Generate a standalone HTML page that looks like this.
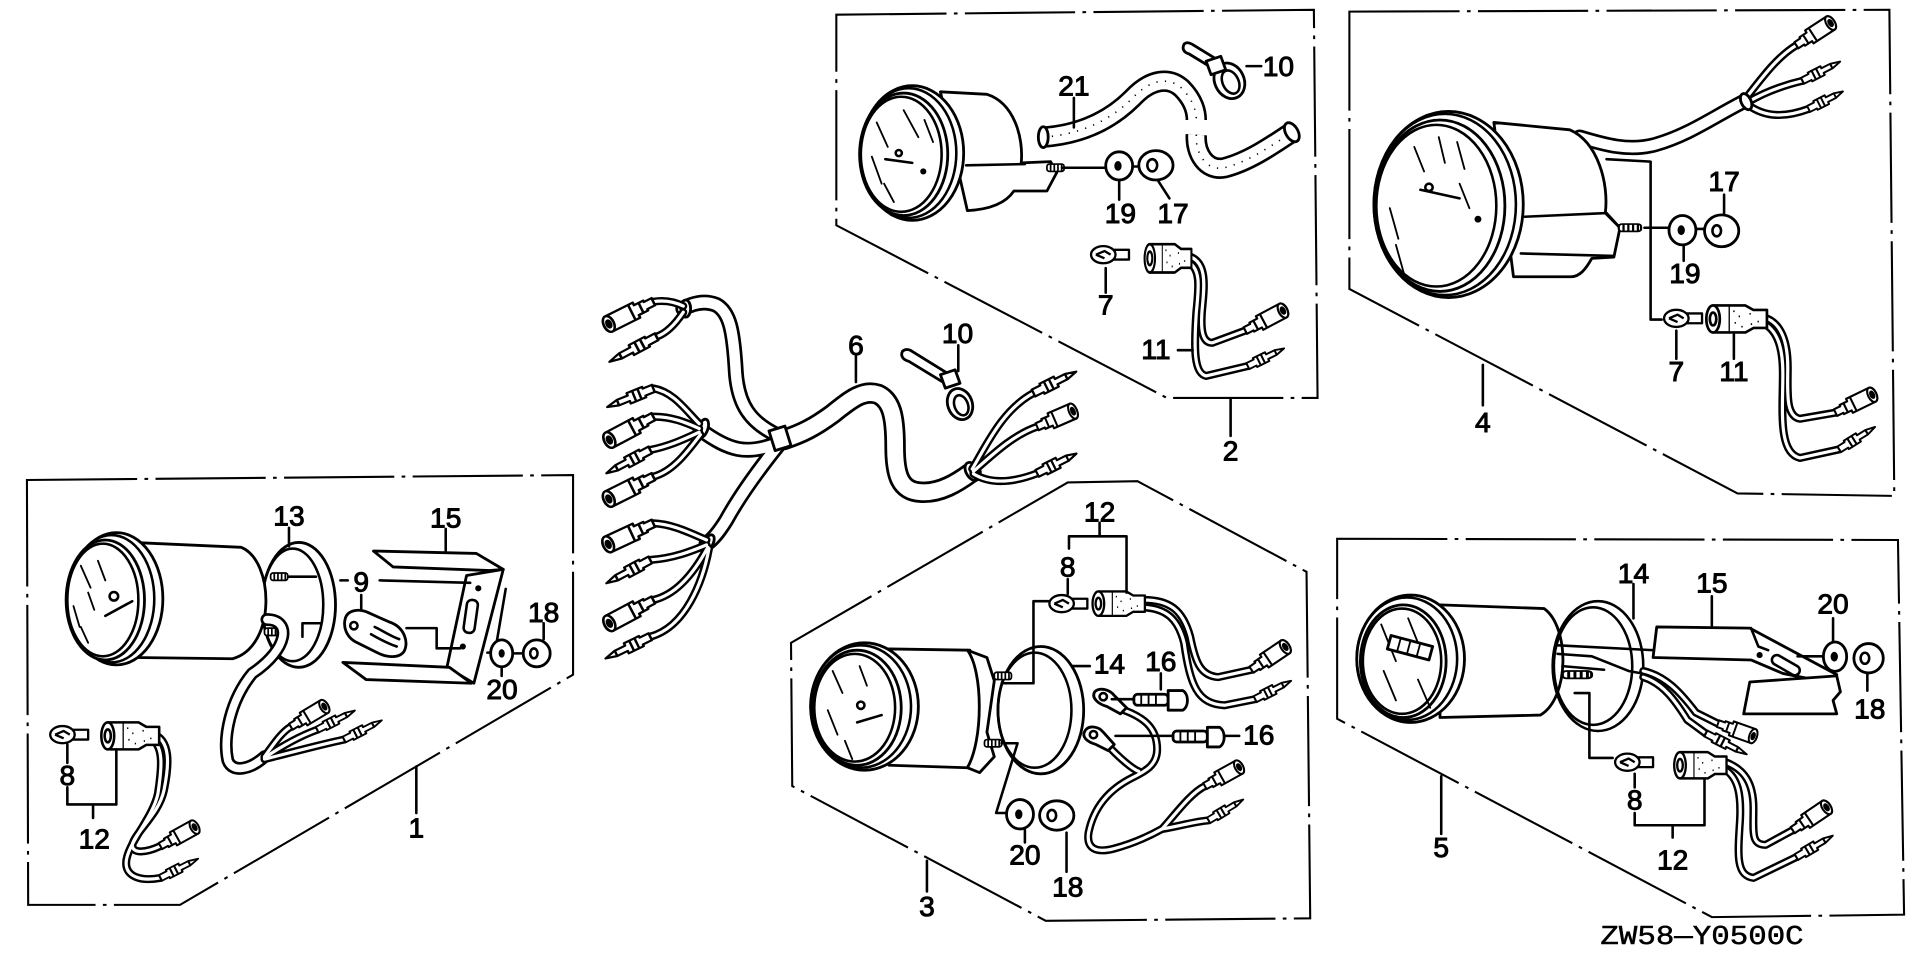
<!DOCTYPE html>
<html><head><meta charset="utf-8">
<style>
html,body{margin:0;padding:0;background:#fff;}
svg{display:block;}
path[id]{fill:none}
.s{fill:none;stroke:#000;stroke-width:2.1;stroke-linejoin:round;stroke-linecap:round}
.t{fill:none;stroke:#000;stroke-width:1.5;stroke-linecap:round}
.f{fill:#fff;stroke:#000;stroke-width:2.3;stroke-linejoin:round}
.box{fill:none;stroke:#000;stroke-width:1.7;stroke-dasharray:90 6 3 6;stroke-linejoin:miter}
.wb{fill:none;stroke:#000;stroke-width:6.6;stroke-linecap:round;stroke-linejoin:round}
.ww{fill:none;stroke:#fff;stroke-width:2.6;stroke-linecap:round;stroke-linejoin:round}
.bb{fill:none;stroke:#000;stroke-width:13;stroke-linecap:round;stroke-linejoin:round}
.bw{fill:none;stroke:#fff;stroke-width:8.6;stroke-linecap:round;stroke-linejoin:round}
.cb{fill:none;stroke:#000;stroke-width:10.5;stroke-linecap:round;stroke-linejoin:round}
.cw{fill:none;stroke:#fff;stroke-width:6.2;stroke-linecap:round;stroke-linejoin:round}
.hb{fill:none;stroke:#000;stroke-width:17.5;stroke-linecap:round}
.hw{fill:none;stroke:#fff;stroke-width:13.2;stroke-linecap:round}
.hd{fill:none;stroke:#000;stroke-width:1.3;stroke-dasharray:1 6}
text{font-family:"Liberation Sans",Arial,sans-serif;font-size:23px;text-anchor:middle;fill:#000;stroke:#000;stroke-width:0.8}
text.code{font-family:"Liberation Mono","Liberation Serif",monospace;font-size:22px;stroke-width:0.4;text-anchor:start}
</style></head>
<body>
<svg width="1920" height="958" viewBox="0 0 1568 782.4" preserveAspectRatio="none" xmlns="http://www.w3.org/2000/svg" xmlns:xlink="http://www.w3.org/1999/xlink">
<defs>
 <g id="sk" fill="#fff" stroke="#000" stroke-width="1.5" stroke-linejoin="round">
  <path d="M0,-2.6 H5 V-3.6 H11 V-5.5 H29 A3,5.5 0 0 1 29,5.5 H11 V3.6 H5 V2.6 H0 Z"/>
  <ellipse cx="29" cy="0" rx="3" ry="5.5"/>
  <ellipse cx="29" cy="0" rx="1.2" ry="2.4" fill="#000"/>
  <path d="M8,-3.6 V3.6 M14,-5.5 V5.5" fill="none"/>
 </g>
 <g id="pn" fill="#fff" stroke="#000" stroke-width="1.5" stroke-linejoin="round">
  <path d="M0,-2.6 H6 V-3.8 H16 V-2 H23 L30,0 L23,2 H16 V3.8 H6 V2.6 H0 Z"/>
  <path d="M9,-3.8 V3.8 M12.5,-3.8 V3.8 M23,-2 V2" fill="none"/>
 </g>
 <g id="bulb" fill="#fff" stroke="#000" stroke-width="1.9" stroke-linejoin="round">
  <path d="M18,-4 H31 V4 H18 Z"/>
  <ellipse cx="10" cy="0" rx="10" ry="7"/>
  <path d="M4,0 L11,-3 L16,0 M4,0 L11,3" fill="none"/>
 </g>
 <g id="ls" fill="#fff" stroke="#000" stroke-width="2" stroke-linejoin="round">
  <path d="M0,-10.5 H24 L30,-7 H40 V7 H30 L24,10.5 H0 Z"/>
  <ellipse cx="0" cy="0" rx="5" ry="10.5"/>
  <ellipse cx="0" cy="0" rx="2.4" ry="5"/>
  <path d="M12,-10.5 V10.5" fill="none" stroke-width="1"/>
  <path d="M15,-6 h1 M19,-2 h1 M16,3 h1 M21,6 h1 M27,-4 h1 M33,2 h1 M28,4 h1" fill="none" stroke-width="1.3"/>
 </g>
 <g id="thr" fill="#fff" stroke="#000" stroke-width="1.4">
  <rect x="0" y="-3" width="14" height="6" rx="2"/>
  <path d="M3,-3 V3 M6,-3 V3 M9,-3 V3 M12,-3 V3" fill="none"/>
 </g>
 <path id="c1" d="M218,506 C238,506 236,530 206,550 C188,572 182,602 186,621 C190,632 205,628 216,618"/>
 <path id="c1a" d="M216,618 C224,607 230,598 237.5,593.5"/>
 <path id="c1b" d="M216,619 C235,606 248,600 259,596"/>
 <path id="c1c" d="M216,620 C240,614 262,608 281,604"/>
 <path id="w1a" d="M124,599 C140,604 138,625 134,645 C130,665 110,680 108,690 C108,697 118,697 131,691"/>
 <path id="w1b" d="M124,604 C134,610 132,628 129,648 C125,668 103,690 103,705 C103,716 115,720 131,717"/>
 <path id="tr" d="M640,359 C655,354 665,349 680,338 C695,326 705,318 717,322 C728,327 731,340 731,365 C731,388 735,401 752,402 C768,403 782,394 793,386"/>
 <path id="tra" d="M636,356 C612,345 603,330 601,305 C599,270 596,255 585,249 C575,245 565,248 558,252"/>
 <path id="trb" d="M635,362 C610,372 595,368 572,351"/>
 <path id="trc" d="M636,363 C620,383 604,405 593,425 C588,433 583,440 577,444"/>
 <path id="h1" d="M558,250 C550,246 542,245 533.5,246.4"/>
 <path id="h2" d="M558,255 C552,264 545,272 536,275"/>
 <path id="h3" d="M571,346 C560,335 550,320 533.5,317.2"/>
 <path id="h4" d="M571,350 C560,345 548,340 533.5,340.3"/>
 <path id="h5" d="M571,353 C560,358 548,364 531,367.5"/>
 <path id="h6" d="M572,355 C562,368 550,385 533.5,389.3"/>
 <path id="h7" d="M577,441 C565,436 550,428 533.5,427.4"/>
 <path id="h8" d="M577,445 C565,450 550,456 531,457.3"/>
 <path id="h9" d="M578,447 C570,462 555,485 533.5,490"/>
 <path id="h10" d="M579,448 C574,475 560,512 531,520"/>
 <path id="h11" d="M794,383 C805,365 818,335 844,321"/>
 <path id="h12" d="M795,385 C812,370 828,355 847,348.5"/>
 <path id="h13" d="M795,387 C808,395 825,395 847,386.6"/>
 <path id="hs1" d="M852,112 C880,110 905,100 925,80 C940,64 955,63 965,72 C975,82 977,92 977,98"/>
 <path id="hs2" d="M977,110 C976,125 985,140 1000,137 C1020,132 1040,118 1055,108"/>
 <path id="w2a" d="M970,209 C985,213 984,230 982,250 C980,270 982,280 990,280 L1017,270"/>
 <path id="w2b" d="M970,214 C981,219 979,235 977,255 C975,285 975,305 985,307 L1019,299"/>
 <path id="c4" d="M1290,112 C1310,118 1330,124 1352,118 C1380,110 1400,95 1426,82"/>
 <path id="h4a" d="M1426,80 C1440,62 1452,46 1467,37"/>
 <path id="h4b" d="M1428,83 C1440,76 1455,70 1472,66"/>
 <path id="h4c" d="M1428,86 C1442,96 1458,96 1477,89"/>
 <path id="w4a" d="M1440,259 C1455,263 1460,280 1460,300 C1460,320 1458,340 1470,342 L1499,337"/>
 <path id="w4b" d="M1440,264 C1452,270 1456,285 1456,305 C1456,335 1452,370 1470,374 L1502,367"/>
 <path id="w3c" d="M912,578 C935,585 945,595 945,612 C945,625 935,630 925,635 C905,645 893,660 889,680 C887,693 895,697 910,693 C925,689 940,682 949,677"/>
 <path id="w3d" d="M903,607 C915,620 925,628 930,630"/>
 <path id="w3e" d="M949,677 C960,665 972,648 984,642"/>
 <path id="w3f" d="M949,677 C962,675 975,671 987,670"/>
 <path id="w3a" d="M934,490 C955,490 966,498 972,520 C976,540 980,552 995,553 L1022,547"/>
 <path id="w3b" d="M934,496 C952,497 962,505 967,525 C972,560 978,575 1000,576 L1025,571"/>
 <path id="w5c" d="M1342,548 C1360,552 1372,565 1385,582 L1403,591"/>
 <path id="w5d" d="M1342,553 C1358,558 1368,572 1378,588 L1393,599"/>
 <path id="w5a" d="M1408,622 C1425,628 1432,640 1432,660 C1432,680 1430,690 1442,690 L1464,678"/>
 <path id="w5b" d="M1408,628 C1420,635 1422,650 1421,670 C1419,700 1418,715 1432,717 L1467,700"/>
</defs>

<!-- ================= BOXES ================= -->
<path class="box" d="M22,392 L468,388 L468,551 L147,739 L23,739 Z"/>
<path class="box" d="M683,12 L1073,8 L1076,325 L953,325 L683,184 Z"/>
<path class="box" d="M1102,9.5 L1543,8 L1547,405 L1419,403 L1102,236 Z"/>
<path class="box" d="M872,394 L929,393 L1067,467 L1070,750 L854,752 L647,642 L646,525 Z"/>
<path class="box" d="M1092,440 L1550,441 L1555,747 L1398,749 L1092,587 Z"/>

<!-- ================= BOX 1 ================= -->
<ellipse class="f" cx="244" cy="494" rx="30" ry="51"/>
<ellipse class="s" cx="239" cy="494" rx="25" ry="46"/>
<path class="f" d="M108,443 L197,447 C224,458 226,528 190,538 L110,537 Z"/>
<ellipse class="f" cx="95" cy="489" rx="38" ry="54"/>
<ellipse class="s" cx="91" cy="489" rx="35" ry="52"/>
<ellipse class="f" cx="86" cy="490" rx="32" ry="49"/>
<ellipse class="s" cx="84" cy="490" rx="29" ry="46"/>
<path class="t" d="M66,462 L74,480 M80,458 L86,474 M72,484 L77,498 M60,495 L65,512 M66,512 L72,525"/>
<circle class="s" cx="93" cy="487" r="3.5"/>
<path class="s" d="M86,503 L108,491" stroke-width="3.2"/>
<use href="#thr" transform="translate(221,471)"/>
<use href="#thr" transform="translate(216,516)"/>
<path class="f" d="M305,450 L389,452 L411,465 L400,466 L321,463 Z"/>
<path class="f" d="M381,470 L411,465 L387,558 L365,545 Z"/>
<path class="s" d="M413,481 L404,534"/>
<path class="f" d="M280,541 L367,545 L385,558 L299,555 Z"/>
<rect class="s" x="380" y="490" width="9" height="27" rx="4" transform="rotate(8 385 503)"/>
<circle cx="390.6" cy="480.5" r="2.5"/>
<circle cx="378" cy="528" r="2.5"/>
<path class="f" d="M282,505 C284,498 293,497 300,500 L318,508 C330,512 334,524 330,532 C326,538 316,537 308,533 L290,524 C283,520 280,512 282,505 Z"/>
<circle class="s" cx="289" cy="511" r="3"/>
<path class="s" d="M303,518 C310,522 318,526 324,528 M306,512 C314,516 320,520 326,522"/>
<ellipse class="f" cx="409.7" cy="533.6" rx="9" ry="11"/>
<ellipse cx="409.7" cy="533.6" rx="2.5" ry="3.5"/>
<ellipse class="f" cx="438.3" cy="533.6" rx="11" ry="11"/>
<ellipse class="s" cx="436" cy="533.6" rx="3" ry="4"/>
<path class="s" d="M236,431 V446 M236,471 H258 M278,474 H284 M310,474 L384,476 M247,509 H262 M247,509 V520 M295,486 V498 M332,513 H356.6 V529.5 H375.7 M364,432 V450 M444,509 V522 M409.7,546 V552 M420,533.6 H427 M398,533 H400"/>
<use href="#c1" class="cb"/><use href="#c1" class="cw"/>
<use href="#c1a" class="wb"/><use href="#c1b" class="wb"/><use href="#c1c" class="wb"/>
<use href="#c1a" class="ww"/><use href="#c1b" class="ww"/><use href="#c1c" class="ww"/>
<use href="#sk" transform="translate(237.5,593.5) rotate(-31) scale(1.1,1.1)"/>
<use href="#pn" transform="translate(259,596) rotate(-27) scale(1.15,1)"/>
<use href="#pn" transform="translate(281,604) rotate(-27) scale(1.15,1)"/>
<use href="#bulb" transform="translate(41,600)"/>
<use href="#w1a" class="wb"/><use href="#w1b" class="wb"/><use href="#w1a" class="ww"/><use href="#w1b" class="ww"/>
<use href="#ls" transform="translate(88,601) scale(1.05,1.05)"/>
<use href="#sk" transform="translate(131,691) rotate(-29) scale(1.1,1.1)"/>
<use href="#pn" transform="translate(131,717) rotate(-27) scale(1.15,1)"/>
<path class="s" d="M55,608 V623 M55,643 V657 H95 V612 M76,657 V668 M340,626 V664"/>
<text x="236" y="429">13</text>
<text x="295" y="483">9</text>
<text x="364" y="431">15</text>
<text x="444" y="508">18</text>
<text x="410" y="571">20</text>
<text x="55" y="641">8</text>
<text x="77" y="693">12</text>
<text x="340" y="684">1</text>

<!-- ================= HARNESS 6 ================= -->
<use href="#tr" class="bb" style="stroke-width:17.5"/>
<use href="#tra" class="bb"/><use href="#trb" class="bb"/><use href="#trc" class="bb"/>
<use href="#tr" class="bw" style="stroke-width:13"/>
<use href="#tra" class="bw"/><use href="#trb" class="bw"/><use href="#trc" class="bw"/>
<path class="f" d="M628,352 L641,348 L646,364 L633,368 Z"/>
<ellipse class="f" cx="794" cy="385" rx="5" ry="8" transform="rotate(-30 794 385)"/>
<ellipse class="f" cx="560" cy="252" rx="4" ry="7"/>
<ellipse class="f" cx="574" cy="350" rx="4" ry="8" transform="rotate(20 574 350)"/>
<ellipse class="f" cx="578" cy="444" rx="4" ry="8" transform="rotate(30 578 444)"/>
<use href="#h1" class="wb"/><use href="#h2" class="wb"/><use href="#h3" class="wb"/><use href="#h4" class="wb"/><use href="#h5" class="wb"/><use href="#h6" class="wb"/><use href="#h7" class="wb"/><use href="#h8" class="wb"/><use href="#h9" class="wb"/><use href="#h10" class="wb"/><use href="#h11" class="wb"/><use href="#h12" class="wb"/><use href="#h13" class="wb"/>
<use href="#h1" class="ww"/><use href="#h2" class="ww"/><use href="#h3" class="ww"/><use href="#h4" class="ww"/><use href="#h5" class="ww"/><use href="#h6" class="ww"/><use href="#h7" class="ww"/><use href="#h8" class="ww"/><use href="#h9" class="ww"/><use href="#h10" class="ww"/><use href="#h11" class="ww"/><use href="#h12" class="ww"/><use href="#h13" class="ww"/>
<use href="#sk" transform="translate(533.5,246.4) rotate(153.4) scale(1.4,1.25)"/>
<use href="#pn" transform="translate(536.2,275) rotate(152) scale(1.45,1.2)"/>
<use href="#pn" transform="translate(533.5,317.2) rotate(158) scale(1.35,1.2)"/>
<use href="#sk" transform="translate(533.5,340.3) rotate(152) scale(1.4,1.25)"/>
<use href="#pn" transform="translate(531,367.5) rotate(152) scale(1.35,1.2)"/>
<use href="#sk" transform="translate(533.5,389.3) rotate(153.4) scale(1.4,1.25)"/>
<use href="#sk" transform="translate(533.5,427.4) rotate(155) scale(1.4,1.25)"/>
<use href="#pn" transform="translate(531,457.3) rotate(152) scale(1.35,1.2)"/>
<use href="#sk" transform="translate(533.5,490) rotate(152) scale(1.4,1.25)"/>
<use href="#pn" transform="translate(531,520) rotate(154) scale(1.35,1.2)"/>
<use href="#pn" transform="translate(844,321) rotate(-26.6) scale(1.3,1.2)"/>
<use href="#sk" transform="translate(847,348.5) rotate(-23.5) scale(1.1,1.2)"/>
<use href="#pn" transform="translate(847,386.6) rotate(-26.7) scale(1.2,1.2)"/>
<path class="f" d="M737,287 C735,291 738,294 742,295 L770,312 L774,305 L745,287 C742,285 739,285 737,287 Z"/>
<ellipse class="f" cx="784" cy="330" rx="10" ry="13" transform="rotate(-20 784 330)"/>
<ellipse class="s" cx="785" cy="331" rx="5.5" ry="8.5" transform="rotate(-20 785 331)"/>
<path class="f" d="M768,306 L780,302 L784,313 L772,317 Z"/>
<path class="s" d="M699,291 V312 M782.6,282 V303"/>
<text x="699" y="290">6</text>
<text x="782" y="280">10</text>

<!-- ================= BOX 2 ================= -->
<path class="f" d="M768,75 L806,77 C828,84 836,112 834,133 L858,132 L863,141 L855,156 L828,156 C822,165 810,171 790,172 Z"/>
<path class="s" d="M789,135 L837,134"/>
<use href="#thr" transform="translate(855,137)"/>
<ellipse class="f" cx="745" cy="125" rx="42" ry="55"/>
<ellipse class="s" cx="742" cy="125" rx="39" ry="53"/>
<ellipse class="f" cx="738" cy="126" rx="36" ry="50"/>
<ellipse class="s" cx="736" cy="126" rx="33" ry="47"/>
<path class="t" d="M738,90 L750,112 M755,98 L762,116 M716,100 L725,120 M712,128 L720,150 M722,150 L730,165"/>
<path class="s" d="M723,130 L745,133" stroke-width="3.2"/>
<circle class="s" cx="734" cy="125" r="2.5"/>
<circle cx="754" cy="140" r="2.5"/>
<use href="#hs1" class="hb" style="stroke-linecap:butt"/><use href="#hs2" class="hb" style="stroke-linecap:butt"/>
<use href="#hs1" class="hw" style="stroke-linecap:butt"/><use href="#hs2" class="hw" style="stroke-linecap:butt"/>
<use href="#hs1" class="hd"/><use href="#hs2" class="hd"/>
<ellipse class="f" cx="852" cy="112" rx="4" ry="8.5"/>
<ellipse class="f" cx="1055" cy="108" rx="5" ry="8.5" transform="rotate(-30 1055 108)"/>
<path class="f" d="M967,36 C965,40 967,43 971,44 L989,55 L993,48 L975,37 C972,35 969,34 967,36 Z"/>
<ellipse class="f" cx="1004" cy="66" rx="12" ry="15" transform="rotate(-25 1004 66)"/>
<ellipse class="s" cx="1005" cy="67" rx="6.5" ry="10" transform="rotate(-25 1005 67)"/>
<path class="f" d="M985,50 L997,46 L1001,57 L989,61 Z"/>
<ellipse class="f" cx="914" cy="135.5" rx="11" ry="11.5"/>
<ellipse cx="913" cy="135.5" rx="3" ry="4"/>
<ellipse class="f" cx="944" cy="135" rx="14" ry="12"/>
<ellipse class="s" cx="941" cy="135" rx="4" ry="5"/>
<use href="#bulb" transform="translate(891,208)"/>
<use href="#w2a" class="wb"/><use href="#w2b" class="wb"/><use href="#w2a" class="ww"/><use href="#w2b" class="ww"/>
<use href="#ls" transform="translate(939,211) scale(0.85,1.1)"/>
<use href="#sk" transform="translate(1017,270) rotate(-28) scale(1.2,1.15)"/>
<use href="#pn" transform="translate(1019,299) rotate(-26) scale(1.1,1.05)"/>
<path class="s" d="M877,80 V104 M1018,54 H1030 M914,148 V163 M946,148 L955,162 M868,137 H903 M925,136 H930 M903,219 V239 M962,286 H974 M1005,326 V356"/>
<text x="877" y="78">21</text>
<text x="1044" y="62">10</text>
<text x="915" y="182">19</text>
<text x="958" y="182">17</text>
<text x="903" y="257">7</text>
<text x="944" y="293">11</text>
<text x="1005" y="376">2</text>

<!-- ================= BOX 4 ================= -->
<use href="#c4" class="cb" style="stroke-width:12.5"/><use href="#c4" class="cw" style="stroke-width:8.2"/>
<path class="f" d="M1220,100 L1282,106 C1305,116 1314,150 1311,174 L1323,186 L1318,210 L1300,211 C1295,220 1290,226 1283,226 L1236,226 Z"/>
<path class="s" d="M1245,177 L1312,174 L1323,186 M1242,207 L1318,209"/>
<use href="#thr" transform="translate(1322,186) scale(1.3,1)"/>
<ellipse class="f" cx="1183" cy="167" rx="61" ry="76"/>
<ellipse class="s" cx="1180" cy="167" rx="58" ry="74"/>
<ellipse class="f" cx="1176" cy="168" rx="53" ry="70"/>
<ellipse class="s" cx="1173" cy="168" rx="49" ry="66"/>
<path class="t" d="M1155,120 L1163,140 M1175,112 L1180,133 M1190,116 L1196,138 M1135,170 L1142,195 M1140,200 L1147,225 M1192,150 L1200,170"/>
<path class="s" d="M1160,155 L1192,162" stroke-width="3.6"/>
<circle class="s" cx="1167" cy="153" r="3"/>
<circle cx="1207" cy="179" r="2.8"/>
<use href="#h4a" class="wb"/><use href="#h4b" class="wb"/><use href="#h4c" class="wb"/>
<use href="#h4a" class="ww"/><use href="#h4b" class="ww"/><use href="#h4c" class="ww"/>
<ellipse class="f" cx="1426" cy="83" rx="4" ry="7" transform="rotate(-25 1426 83)"/>
<use href="#sk" transform="translate(1467,37) rotate(-33) scale(1.15,1.15)"/>
<use href="#pn" transform="translate(1472,66) rotate(-27) scale(1.15,1.05)"/>
<use href="#pn" transform="translate(1477,89) rotate(-27) scale(1.05,1.05)"/>
<ellipse class="f" cx="1374" cy="188" rx="11" ry="12"/>
<ellipse cx="1373" cy="188" rx="3" ry="4"/>
<ellipse class="f" cx="1406" cy="188.5" rx="14" ry="13"/>
<ellipse class="s" cx="1402" cy="188.5" rx="3.5" ry="4.5"/>
<use href="#bulb" transform="translate(1359,260)"/>
<use href="#w4a" class="wb"/><use href="#w4b" class="wb"/><use href="#w4a" class="ww"/><use href="#w4b" class="ww"/>
<use href="#ls" transform="translate(1399,260.5) scale(1.1,1.05)"/>
<use href="#sk" transform="translate(1499,337) rotate(-26) scale(1.15,1.15)"/>
<use href="#pn" transform="translate(1502,367) rotate(-32) scale(1.15,1.05)"/>
<path class="s" d="M1312,130 L1348,132 V261 H1357 M1343,186 H1362 M1386,187 H1392 M1408,159 V175 M1375,200 V213 M1369,270 V293 M1416,273 V293 M1211,298 V331"/>
<text x="1408" y="156">17</text>
<text x="1376" y="231">19</text>
<text x="1369" y="311">7</text>
<text x="1416" y="311">11</text>
<text x="1211" y="353">4</text>

<!-- ================= BOX 3 ================= -->
<ellipse class="f" cx="850" cy="580" rx="35" ry="52"/>
<ellipse class="s" cx="845" cy="580" rx="30" ry="47"/>
<path class="f" d="M726,530 L792,531 C803,548 805,605 790,627 L726,625 Z"/>
<path class="f" d="M790,531 L806,537 L812,556 L806,598 L812,618 L800,631 L790,627 C803,605 803,548 790,531 Z"/>
<use href="#thr" transform="translate(812,552)"/>
<use href="#thr" transform="translate(804,607)"/>
<ellipse class="f" cx="706" cy="577" rx="44" ry="52"/>
<ellipse class="s" cx="703" cy="577" rx="41" ry="50"/>
<ellipse class="f" cx="700" cy="578" rx="36" ry="47"/>
<ellipse class="s" cx="698" cy="578" rx="33" ry="44"/>
<path class="t" d="M680,548 L688,566 M702,544 L708,560 M676,580 L684,600 M690,605 L696,620"/>
<path class="s" d="M700,590 L720,584" stroke-width="2.8"/>
<circle class="s" cx="703" cy="576" r="3"/>
<use href="#w3c" class="wb"/><use href="#w3d" class="wb"/><use href="#w3e" class="wb"/><use href="#w3f" class="wb"/>
<use href="#w3c" class="ww"/><use href="#w3d" class="ww"/><use href="#w3e" class="ww"/><use href="#w3f" class="ww"/>
<path class="f" d="M894,565 C898,561 906,563 910,568 L920,578 L915,583 L904,577 C897,575 891,570 894,565 Z"/>
<circle class="s" cx="901" cy="569" r="3"/>
<path class="f" d="M886,597 C889,592 897,593 901,598 L910,608 L905,613 L895,608 C888,606 883,602 886,597 Z"/>
<circle class="s" cx="893" cy="600" r="3"/>
<use href="#sk" transform="translate(984,642) rotate(-29) scale(1.1,1.1)"/>
<use href="#pn" transform="translate(987,670) rotate(-31) scale(1.1,1)"/>
<rect class="f" x="926" y="567" width="28" height="9" rx="3"/>
<path class="t" d="M932,567 V576 M938,567 V576 M944,567 V576"/>
<path class="f" d="M954,564 L966,564 C971,567 971,577 966,580 L954,580 Z"/>
<rect class="f" x="958" y="597" width="28" height="9" rx="3"/>
<path class="t" d="M964,597 V606 M970,597 V606 M976,597 V606"/>
<path class="f" d="M986,594 L996,594 C1001,597 1001,607 996,610 L986,610 Z"/>
<use href="#bulb" transform="translate(857,493)"/>
<use href="#w3a" class="wb"/><use href="#w3b" class="wb"/><use href="#w3a" class="ww"/><use href="#w3b" class="ww"/>
<use href="#ls" transform="translate(897,493) scale(0.95,0.95)"/>
<use href="#sk" transform="translate(1022,547) rotate(-34) scale(1.15,1.15)"/>
<use href="#pn" transform="translate(1025,571) rotate(-27) scale(1.1,1.05)"/>
<ellipse class="f" cx="833" cy="665" rx="11" ry="12"/>
<ellipse cx="832" cy="665" rx="3" ry="4"/>
<ellipse class="f" cx="863" cy="666" rx="14" ry="12"/>
<ellipse class="s" cx="859" cy="666" rx="3.5" ry="4.5"/>
<path class="s" d="M898,427 V438 M873,438 H920 M873,438 V448 M920,438 V484 M872,473 V485 M856,491 H844 V558 H818 M876,544 H890 M948,550 V563 M908,571 H926 M911,601 H958 M1001,601 H1012 M818,607 H831 L813.5,664 H822 M837,678 V688 M871,680 V712 M757,703 V728"/>
<text x="898" y="426">12</text>
<text x="872" y="471">8</text>
<text x="906" y="550">14</text>
<text x="948" y="548">16</text>
<text x="1028" y="608">16</text>
<text x="837" y="706">20</text>
<text x="872" y="732">18</text>
<text x="757" y="748">3</text>

<!-- ================= BOX 5 ================= -->
<path class="f" d="M1176,494 L1261,497 C1282,512 1282,570 1258,584 L1176,586 Z"/>
<ellipse class="f" cx="1152" cy="538" rx="44" ry="52"/>
<ellipse class="s" cx="1149" cy="538" rx="41" ry="50"/>
<ellipse class="f" cx="1146" cy="540" rx="35" ry="46"/>
<ellipse class="s" cx="1145" cy="540" rx="32" ry="43"/>
<path class="t" d="M1128,510 L1140,540 M1150,505 L1160,530 M1130,548 L1140,572 M1158,555 L1168,578"/>
<path class="f" d="M1136,519 L1170,528 L1167,539 L1133,530 Z"/>
<path class="t" d="M1144,521 L1141,532 M1152,523 L1149,534 M1160,525 L1157,536"/>
<path class="s" d="M1272,527 L1350,531 M1272,534 L1300,536 L1330,548 L1352,552 M1276,544 L1310,547"/>
<use href="#thr" transform="translate(1276,551) scale(1.7,1)"/>
<ellipse class="s" cx="1305" cy="544" rx="37" ry="53" stroke-width="2.5"/>
<ellipse class="s" cx="1301" cy="544" rx="32" ry="48"/>
<path class="f" d="M1353,512 L1429,513 L1500,551 L1496,558 L1456,550 L1430,539 L1350,537 Z"/>
<path class="f" d="M1429,557 L1500,552 L1503,565 L1497,572 L1500,583 L1424,583 Z"/>
<rect class="s" x="1446" y="539" width="25" height="8" rx="4" transform="rotate(30 1458 543)"/>
<circle cx="1437" cy="535" r="2.5"/>
<path class="s" d="M1430,513 L1436,528 L1444,531"/>
<use href="#w5c" class="wb"/><use href="#w5d" class="wb"/><use href="#w5c" class="ww"/><use href="#w5d" class="ww"/>
<use href="#sk" transform="translate(1403,591) rotate(19.5) scale(1.05,1.1)"/>
<use href="#pn" transform="translate(1393,599) rotate(27) scale(1.25,1.05)"/>
<ellipse class="f" cx="1498.6" cy="536.3" rx="9.5" ry="12"/>
<ellipse cx="1498" cy="536.3" rx="3" ry="4"/>
<ellipse class="f" cx="1526" cy="537.6" rx="12" ry="12"/>
<ellipse class="s" cx="1523" cy="537.6" rx="3.5" ry="4.5"/>
<use href="#bulb" transform="translate(1319,622.5)"/>
<use href="#w5a" class="wb"/><use href="#w5b" class="wb"/><use href="#w5a" class="ww"/><use href="#w5b" class="ww"/>
<use href="#ls" transform="translate(1372,625) scale(0.95,1.02)"/>
<use href="#sk" transform="translate(1464,678) rotate(-34) scale(1.15,1.15)"/>
<use href="#pn" transform="translate(1467,700) rotate(-30.5) scale(1.15,1.05)"/>
<path class="s" d="M1334,477 V505 M1398,487 V511 M1497,505 V524 M1525,550 V564 M1468,536 H1489 M1286,566 H1298 V619 H1317 M1335,632 V643 M1335,664 V674 H1392 V637 M1366,674 V684 M1177,634 V681"/>
<text x="1334" y="476">14</text>
<text x="1398" y="484">15</text>
<text x="1497" y="501">20</text>
<text x="1527" y="587">18</text>
<text x="1335" y="661">8</text>
<text x="1366" y="710">12</text>
<text x="1177" y="700">5</text>

<text class="code" x="1307" y="771" textLength="166" lengthAdjust="spacingAndGlyphs">ZW58—Y0500C</text>
</svg>
</body></html>
